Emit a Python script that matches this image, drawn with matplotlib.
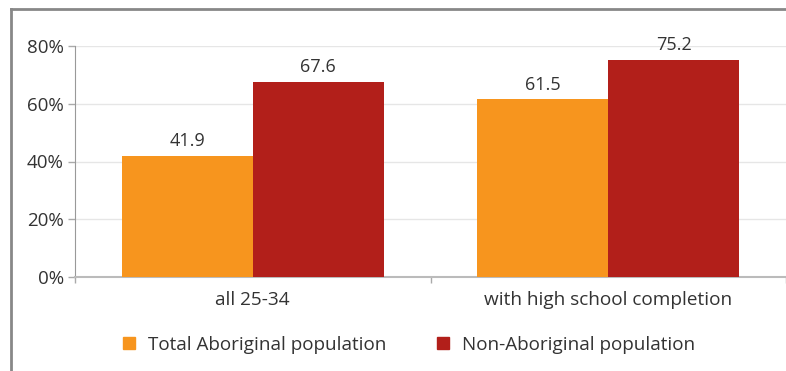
import matplotlib
matplotlib.use('Agg')
import matplotlib.pyplot as plt
from matplotlib.lines import Line2D
import numpy as np

# dane
categories = ['all 25-34', 'with high school completion']
series_names = ['Total Aboriginal population', 'Non-Aboriginal population']
aboriginal = [41.9, 61.5]
non_aboriginal = [67.6, 75.2]
y_ticks = [0, 20, 40, 60, 80]
y_labels = ['0%', '20%', '40%', '60%', '80%']

orange = '#F7951E'
red = '#B21F1A'
txt = '#333333'

plt.rcParams['font.family'] = ['Open Sans', 'DejaVu Sans']

fig = plt.figure(figsize=(7.86, 3.71), dpi=100)
ax = fig.add_axes([75 / 786, 1 - 277 / 371, 1 - 75 / 786, (277 - 46) / 371])

x = np.arange(len(categories))
w = 0.369
b1 = ax.bar(x - w / 2, aboriginal, w, color=orange, zorder=3)
b2 = ax.bar(x + w / 2, non_aboriginal, w, color=red, zorder=3)

# etykiety wartosci
for bars in (b1, b2):
    for r in bars:
        ax.text(r.get_x() + r.get_width() / 2, r.get_height() + 2.0, f'{r.get_height():.1f}',
                ha='center', va='bottom', fontsize=13, color=txt)

ax.set_xlim(-0.5, 1.5)
ax.set_ylim(0, 80)
ax.set_yticks(y_ticks)
ax.set_yticklabels(y_labels)
ax.set_xticks(x)
ax.set_xticklabels(categories)
ax.set_xticks([-0.5, 0.5, 1.5], minor=True)
ax.tick_params(axis='x', which='major', length=0, pad=10, labelsize=13.7, labelcolor=txt)
ax.tick_params(axis='x', which='minor', length=4, color='#aaaaaa', width=1)
ax.tick_params(axis='y', length=5, color='#aaaaaa', width=1, pad=3, labelsize=13.5, labelcolor=txt)

ax.yaxis.grid(True, color='#e6e6e6', linewidth=1, zorder=0)
for s in ['top', 'right']:
    ax.spines[s].set_visible(False)
ax.spines['left'].set_color('#999999')
ax.spines['bottom'].set_color('#bbbbbb')
ax.spines['bottom'].set_linewidth(1.5)

# legenda
handles = [Line2D([], [], marker='s', linestyle='none', markersize=8.5, color=orange),
           Line2D([], [], marker='s', linestyle='none', markersize=8.5, color=red)]
leg = fig.legend(handles, series_names, loc='center', bbox_to_anchor=(408 / 786, 1 - 345 / 371),
                 ncol=2, frameon=False, fontsize=13.6, handlelength=0.8, handletextpad=0.6,
                 columnspacing=2.6)
for t in leg.get_texts():
    t.set_color(txt)

# ramka
fig.add_artist(Line2D([11 / 786, 11 / 786], [0, 1 - 9 / 371], color='#888888', linewidth=2,
                      transform=fig.transFigure))
fig.add_artist(Line2D([11 / 786, 1], [1 - 9 / 371, 1 - 9 / 371], color='#888888', linewidth=2,
                      transform=fig.transFigure))

plt.savefig('out.png', dpi=100)
